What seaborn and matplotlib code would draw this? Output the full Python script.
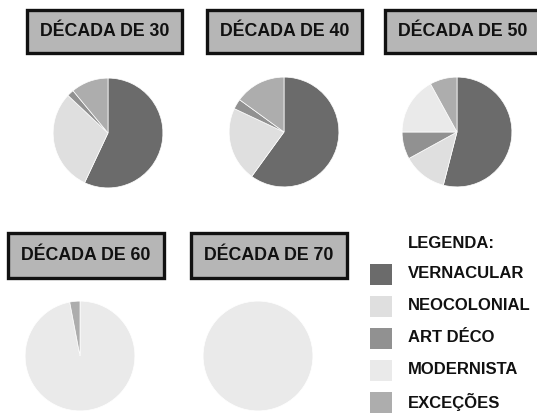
import matplotlib
matplotlib.use("Agg")
import matplotlib.pyplot as plt
from matplotlib.patches import Rectangle
import seaborn as sns

# ---- data ----
categories = ["VERNACULAR", "NEOCOLONIAL", "ART DÉCO", "MODERNISTA", "EXCEÇÕES"]
decades = ["DÉCADA DE 30", "DÉCADA DE 40", "DÉCADA DE 50", "DÉCADA DE 60", "DÉCADA DE 70"]
d30 = [57, 30, 2, 0, 11]
d40 = [60, 22, 3, 0, 15]
d50 = [54, 13, 8, 17, 8]
d60 = [0, 0, 0, 97, 3]
d70 = [0, 0, 0, 100, 0]
series = [d30, d40, d50, d60, d70]
legend_title = "LEGENDA:"

colors = ["#6b6b6b", "#dfdfdf", "#919191", "#eaeaea", "#adadad"]

sns.set_theme(style="white")
plt.rcParams['font.family'] = ['Liberation Sans', 'DejaVu Sans']

W, H = 537, 413
fig = plt.figure(figsize=(W / 100, H / 100), dpi=100)
fig.patch.set_facecolor("white")

def fx(x):
    return x / W

def fy(y):
    return 1 - y / H

# title box geometry (pixels: left, top, right, bottom)
boxes = [(27, 10, 182, 53), (207, 10, 362, 53), (385, 10, 540, 53),
         (8, 233, 164, 278), (191, 233, 347, 278)]
# pie geometry (pixels: cx, cy, r)
pies = [(108, 133, 56), (284, 132, 56), (457, 132, 56),
        (80, 356, 56), (258, 356, 56)]

for title, vals, (l, t, r, b), (cx, cy, rad) in zip(decades, series, boxes, pies):
    fig.patches.append(Rectangle((fx(l), fy(b)), fx(r - l), (b - t) / H,
                                 transform=fig.transFigure, facecolor="#b6b6b6",
                                 edgecolor="#111111", linewidth=2.4, zorder=1))
    fig.text(fx((l + r) / 2), fy((t + b) / 2), title, ha="center", va="center",
             fontsize=12.8, fontweight="bold", color="#111111", zorder=2)
    ax = fig.add_axes([fx(cx - rad), fy(cy + rad), 2 * rad / W, 2 * rad / H])
    v = [x for x in vals if x > 0]
    c = [col for x, col in zip(vals, colors) if x > 0]
    ax.pie(v, colors=c, startangle=90, counterclock=False, radius=1,
           wedgeprops=dict(edgecolor="white", linewidth=0.5))
    ax.set_xlim(-1.02, 1.02)
    ax.set_ylim(-1.02, 1.02)
    ax.set_aspect("equal")
    ax.axis("off")

# legend
fig.text(fx(408), fy(243), legend_title, ha="left", va="center",
         fontsize=12, fontweight="bold", color="#111111")
for i, (cat, col) in enumerate(zip(categories, colors)):
    yc = 274 + i * 32
    fig.patches.append(Rectangle((fx(370), fy(yc + 10.5)), fx(22), 21 / H,
                                 transform=fig.transFigure, facecolor=col,
                                 edgecolor="none"))
    fig.text(fx(408), fy(yc), cat, ha="left", va="center",
             fontsize=12, fontweight="bold", color="#111111")

fig.savefig("out.png", dpi=100, facecolor="white")
